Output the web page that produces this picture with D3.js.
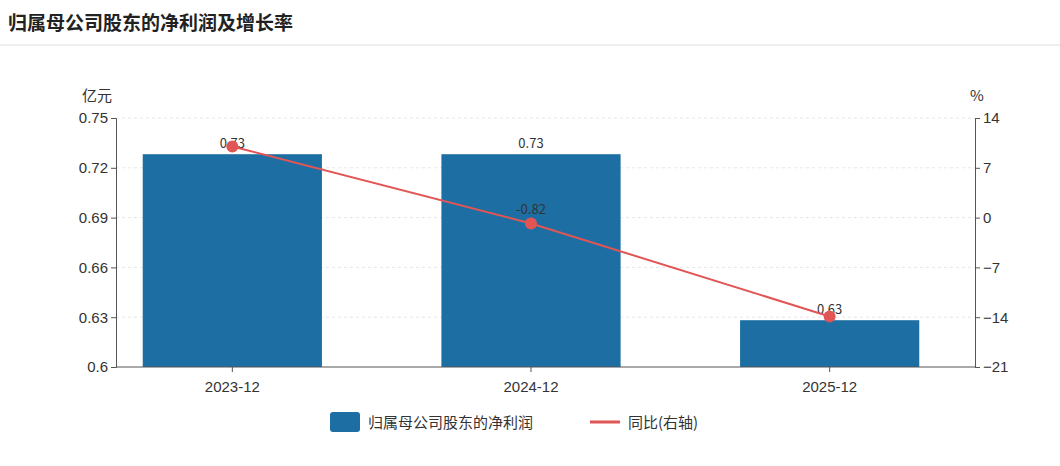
<!DOCTYPE html>
<html><head><meta charset="utf-8">
<script src="https://cdn.jsdelivr.net/npm/d3@7"></script>
<style>body{margin:0;background:#fff;font-family:"Noto Sans CJK SC","Noto Sans",sans-serif}</style>
</head><body><svg id="c" width="1060" height="466"></svg>
<script>
var categories = ["2023-12","2024-12","2025-12"];
var profit = [0.73,0.73,0.63];
var growth = [10.0,-0.82,-13.9];
var leftTicks = [0.6,0.63,0.66,0.69,0.72,0.75];
var rightTicks = [-21,-14,-7,0,7,14];

var svg = d3.select("#c");
var m = {l:116,r:975,t:118,b:367};
svg.append("text").attr("x",8).attr("y",30).text("归属母公司股东的净利润及增长率")
  .attr("font-size",19).attr("font-weight","bold").attr("fill","#222");
svg.append("line").attr("x1",0).attr("x2",1060).attr("y1",45).attr("y2",45).attr("stroke","#ddd");

// category centres sit a bit left of the plot middle in the reference
var x = d3.scaleBand().domain(categories).range([83,979]);
var yl = d3.scaleLinear().domain([0.6,0.75]).range([m.b,m.t]);
var yr = d3.scaleLinear().domain([-21,14]).range([m.b,m.t]);

svg.append("g").selectAll("line").data(leftTicks.slice(1)).join("line")
  .attr("x1",m.l).attr("x2",m.r).attr("y1",d=>yl(d)).attr("y2",d=>yl(d))
  .attr("stroke","#e6e6e6").attr("stroke-dasharray","3,3");

svg.append("g").selectAll("rect").data(profit).join("rect")
  .attr("x",(d,i)=>x(categories[i])+x.bandwidth()*0.2).attr("width",x.bandwidth()*0.6)
  .attr("y",d=>yl(d)+3).attr("height",d=>m.b-yl(d)-3).attr("fill","#1d6fa3");
svg.append("g").selectAll("text").data(profit).join("text")
  .attr("x",(d,i)=>x(categories[i])+x.bandwidth()/2).attr("y",d=>yl(d)-3)
  .attr("text-anchor","middle").attr("font-size",13).attr("fill","#333").text(d=>d.toFixed(2));

var ax = d3.axisBottom(x).tickSize(5).tickSizeOuter(0);
var gx = svg.append("g").attr("transform","translate(0,"+m.b+")").call(ax);
gx.select(".domain").remove();
gx.append("line").attr("x1",m.l).attr("x2",m.r).attr("stroke","#555");
gx.selectAll("text").attr("font-size",15).attr("fill","#333").attr("dy","1.1em");
gx.selectAll(".tick line").attr("stroke","#555");

var gl = svg.append("g").attr("transform","translate("+m.l+",0)")
  .call(d3.axisLeft(yl).tickValues(leftTicks).tickFormat(d=>+d.toFixed(2)).tickSize(5));
gl.selectAll("text").attr("font-size",15).attr("fill","#333");
gl.selectAll("line,path").attr("stroke","#555");
var gr = svg.append("g").attr("transform","translate("+m.r+",0)")
  .call(d3.axisRight(yr).tickValues(rightTicks).tickSize(5));
gr.selectAll("text").attr("font-size",15).attr("fill","#333");
gr.selectAll("line,path").attr("stroke","#555");
svg.append("text").attr("x",82).attr("y",101).attr("font-size",15).attr("fill","#333").text("亿元");
svg.append("text").attr("x",970).attr("y",101).attr("font-size",15).attr("fill","#333").text("%");

var cx = (d,i)=>x(categories[i])+x.bandwidth()/2;
svg.append("path").datum(growth).attr("fill","none").attr("stroke","#e25555").attr("stroke-width",2)
  .attr("d",d3.line().x(cx).y(d=>yr(d)));
svg.append("g").selectAll("circle").data(growth).join("circle")
  .attr("cx",cx).attr("cy",d=>yr(d)).attr("r",6).attr("fill","#e25555");
svg.append("text").attr("x",cx(0,1)).attr("y",yr(growth[1])-9).attr("text-anchor","middle")
  .attr("font-size",13).attr("fill","#333").text("-0.82");

var lg = svg.append("g");
lg.append("rect").attr("x",330).attr("y",412).attr("width",30).attr("height",20).attr("rx",3).attr("fill","#1d6fa3");
lg.append("text").attr("x",368).attr("y",428).attr("font-size",15).attr("fill","#333").text("归属母公司股东的净利润");
lg.append("line").attr("x1",590).attr("x2",620).attr("y1",422).attr("y2",422).attr("stroke","#e25555").attr("stroke-width",3);
lg.append("text").attr("x",628).attr("y",428).attr("font-size",15).attr("fill","#333").text("同比(右轴)");
</script></body></html>
